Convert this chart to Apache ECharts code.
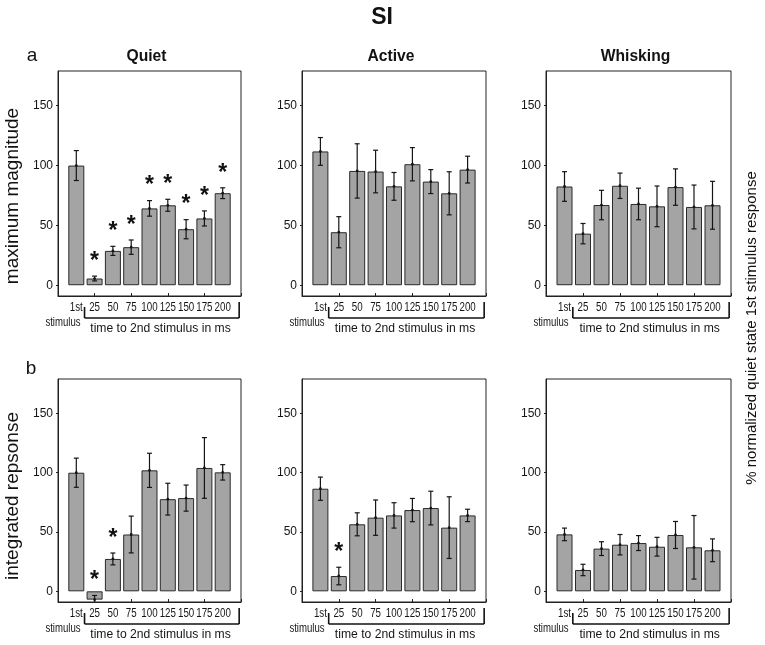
<!DOCTYPE html>
<html>
<head>
<meta charset="utf-8">
<script src="https://cdn.jsdelivr.net/npm/echarts@6/dist/echarts.min.js"></script>
<style>
html,body{margin:0;padding:0;background:#fff;}
#chart{width:765px;height:645px;}
</style>
</head>
<body>
<div id="chart"></div>
<script>
// ---------- data ----------
const categories = ['1st', '25', '50', '75', '100', '125', '150', '175', '200'];
const yTicks = [0, 50, 100, 150];
const columnTitles = ['Quiet', 'Active', 'Whisking'];
const rowLetters = ['a', 'b'];
const rowTitles = ['maximum magnitude', 'integrated repsonse'];

// a: maximum magnitude
const quietMaxMean   = [100, 5.6, 28.7, 31.8, 64.2, 66.8, 46.8, 55.8, 76.9];
const quietMaxErr    = [12.5, 2, 3.8, 6, 6.5, 5, 8, 6.3, 4.5];
const quietMaxSig    = [0, 1, 1, 1, 1, 1, 1, 1, 1];
const activeMaxMean  = [111.8, 44.3, 95.5, 95, 82.6, 101.1, 86.6, 76.8, 96.6];
const activeMaxErr   = [11.6, 13, 22.7, 17.8, 11.6, 13.9, 10, 18, 11.2];
const activeMaxSig   = [0, 0, 0, 0, 0, 0, 0, 0, 0];
const whiskMaxMean   = [82.5, 43.1, 67, 83.1, 67.9, 65.9, 82, 65.4, 66.8];
const whiskMaxErr    = [12.4, 8.5, 12.3, 10.6, 13.2, 17, 15.2, 18.3, 20];
const whiskMaxSig    = [0, 0, 0, 0, 0, 0, 0, 0, 0];

// b: integrated response
const quietIntMean   = [100, -7, 27.3, 47.9, 102, 77.7, 78.6, 104, 100.3];
const quietIntErr    = [12.3, 3.5, 5, 15.5, 14.4, 13.4, 11, 25.6, 6.5];
const quietIntSig    = [0, 1, 1, 0, 0, 0, 0, 0, 0];
const activeIntMean  = [86.5, 12.9, 56.5, 62.1, 64, 68.5, 70.2, 53.7, 64];
const activeIntErr   = [9.8, 7.4, 9.7, 14.9, 10.7, 9.8, 14.2, 26, 5.2];
const activeIntSig   = [0, 1, 0, 0, 0, 0, 0, 0, 0];
const whiskIntMean   = [48, 18, 36, 39.3, 40.7, 37.6, 47.5, 37.1, 34.6];
const whiskIntErr    = [5.3, 4.8, 5.8, 8.6, 6.3, 7.9, 11.4, 26.8, 9.6];
const whiskIntSig    = [0, 0, 0, 0, 0, 0, 0, 0, 0];

const panelData = [
  [[quietMaxMean, quietMaxErr, quietMaxSig], [activeMaxMean, activeMaxErr, activeMaxSig], [whiskMaxMean, whiskMaxErr, whiskMaxSig]],
  [[quietIntMean, quietIntErr, quietIntSig], [activeIntMean, activeIntErr, activeIntSig], [whiskIntMean, whiskIntErr, whiskIntSig]]
];

// ---------- layout ----------
const FONT = 'Liberation Sans, Arial, sans-serif';
const colLeft = [58, 302, 546];
const colWidth = [183, 184, 185];
const rowTop = [71, 379];
const rowHeight = [225, 223];
const Y_MIN = -9, Y_MAX = 179;

const grids = [], xAxes = [], yAxes = [], series = [], graphics = [];
const paddedCats = [''].concat(categories, ['']);

function renderErr(params, api) {
  const x = api.value(0), m = api.value(1), e = api.value(2), sig = api.value(3);
  const top = api.coord([x, m + e]);
  const bot = api.coord([x, m - e]);
  const mid = api.coord([x, m]);
  const cw = 2.5;
  const st = { stroke: '#151515', lineWidth: 1.2 };
  const children = [
    { type: 'line', shape: { x1: top[0], y1: top[1], x2: bot[0], y2: bot[1] }, style: st },
    { type: 'line', shape: { x1: top[0] - cw, y1: top[1], x2: top[0] + cw, y2: top[1] }, style: st },
    { type: 'line', shape: { x1: bot[0] - cw, y1: bot[1], x2: bot[0] + cw, y2: bot[1] }, style: st },
    { type: 'circle', shape: { cx: mid[0], cy: mid[1], r: 1.4 }, style: { fill: '#151515' } }
  ];
  if (sig) {
    children.push({ type: 'text', x: top[0], y: top[1] - 3,
      style: { text: '*', fill: '#111', font: 'bold 23px ' + FONT, align: 'center', verticalAlign: 'bottom' } });
  }
  return { type: 'group', children: children };
}

function renderTickLabel(params, api) {
  const x = api.value(0);
  const p = api.coord([x, Y_MIN]);
  return { type: 'text', x: p[0], y: p[1] + 5, scaleX: 0.75,
    style: { text: categories[params.dataIndex], fill: '#151515', font: '13px ' + FONT, align: 'center', verticalAlign: 'top' } };
}

let idx = 0;
for (let r = 0; r < 2; r++) {
  for (let c = 0; c < 3; c++) {
    const [mean, err, sig] = panelData[r][c];
    grids.push({ left: colLeft[c], top: rowTop[r], width: colWidth[c], height: rowHeight[r],
      show: true, borderColor: '#222', borderWidth: 1, backgroundColor: 'transparent' });
    xAxes.push({ type: 'category', gridIndex: idx, data: paddedCats, boundaryGap: false,
      axisLine: { show: true, onZero: false, lineStyle: { color: '#222', width: 1 } },
      axisTick: { show: true, inside: true, length: 3, lineStyle: { color: '#222' } },
      axisLabel: { show: false },
      splitLine: { show: false } });
    yAxes.push({ type: 'value', gridIndex: idx, min: Y_MIN, max: Y_MAX,
      axisLine: { show: true, lineStyle: { color: '#222', width: 1 } },
      axisTick: { show: true, length: 2, customValues: yTicks, lineStyle: { color: '#222' } },
      axisLabel: { show: true, customValues: yTicks, margin: 5, color: '#151515', fontSize: 12, fontFamily: FONT },
      splitLine: { show: false } });
    series.push({ type: 'bar', xAxisIndex: idx, yAxisIndex: idx, barWidth: 16,
      data: [null].concat(mean, [null]),
      itemStyle: { color: '#a4a4a4', borderColor: '#2a2a2a', borderWidth: 1 },
      silent: true, animation: false });
    series.push({ type: 'custom', xAxisIndex: idx, yAxisIndex: idx, clip: true,
      data: mean.map((m, i) => [i + 1, m, err[i], sig[i]]),
      renderItem: renderErr, silent: true, animation: false, z: 5 });
    series.push({ type: 'custom', xAxisIndex: idx, yAxisIndex: idx, clip: false,
      data: categories.map((cat, i) => [i + 1, 0]),
      renderItem: renderTickLabel, silent: true, animation: false, z: 5 });

    // bracket and axis annotations
    const band = colWidth[c] / 10;
    const axisBottom = rowTop[r] + rowHeight[r];
    const bx1 = colLeft[c] + 1.45 * band;
    const bx2 = colLeft[c] + 9.9 * band;
    const by = axisBottom + 22;
    const ls = { stroke: '#111', lineWidth: 1.6 };
    graphics.push({ type: 'line', shape: { x1: bx1, y1: axisBottom + 11, x2: bx1, y2: by }, style: ls });
    graphics.push({ type: 'line', shape: { x1: bx1, y1: by, x2: bx2, y2: by }, style: ls });
    graphics.push({ type: 'line', shape: { x1: bx2, y1: axisBottom + 6, x2: bx2, y2: by }, style: ls });
    graphics.push({ type: 'text', x: colLeft[c] + 5, y: axisBottom + 27, scaleX: 0.8,
      style: { text: 'stimulus', font: '12px ' + FONT, fill: '#151515', align: 'center', verticalAlign: 'middle' } });
    graphics.push({ type: 'text', x: colLeft[c] + 5.6 * band, y: axisBottom + 32, scaleX: 0.9,
      style: { text: 'time to 2nd stimulus in ms', font: '13.5px ' + FONT, fill: '#151515', align: 'center', verticalAlign: 'middle' } });
    idx++;
  }
}

// titles
graphics.push({ type: 'text', x: 382, y: 18, style: { text: 'SI', font: 'bold 23px ' + FONT, fill: '#111', align: 'center', verticalAlign: 'middle' } });
for (let c = 0; c < 3; c++) {
  graphics.push({ type: 'text', x: colLeft[c] + colWidth[c] / 2 - 3, y: 56, scaleX: 0.92,
    style: { text: columnTitles[c], font: 'bold 17px ' + FONT, fill: '#111', align: 'center', verticalAlign: 'middle' } });
}
graphics.push({ type: 'text', x: 32, y: 56, style: { text: rowLetters[0], font: '19px ' + FONT, fill: '#111', align: 'center', verticalAlign: 'middle' } });
graphics.push({ type: 'text', x: 31, y: 369, style: { text: rowLetters[1], font: '19px ' + FONT, fill: '#111', align: 'center', verticalAlign: 'middle' } });
graphics.push({ type: 'text', x: 13, y: 196, rotation: Math.PI / 2,
  style: { text: rowTitles[0], font: '19px ' + FONT, fill: '#111', align: 'center', verticalAlign: 'middle' } });
graphics.push({ type: 'text', x: 13, y: 496, rotation: Math.PI / 2,
  style: { text: rowTitles[1], font: '19px ' + FONT, fill: '#111', align: 'center', verticalAlign: 'middle' } });
graphics.push({ type: 'text', x: 752, y: 328, rotation: Math.PI / 2,
  style: { text: '% normalized quiet state 1st stimulus response', font: '15px ' + FONT, fill: '#111', align: 'center', verticalAlign: 'middle' } });

const chart = echarts.init(document.getElementById('chart'), null, { renderer: 'canvas' });
chart.setOption({
  animation: false,
  backgroundColor: '#fff',
  grid: grids,
  xAxis: xAxes,
  yAxis: yAxes,
  series: series,
  graphic: graphics
});
</script>
</body>
</html>
